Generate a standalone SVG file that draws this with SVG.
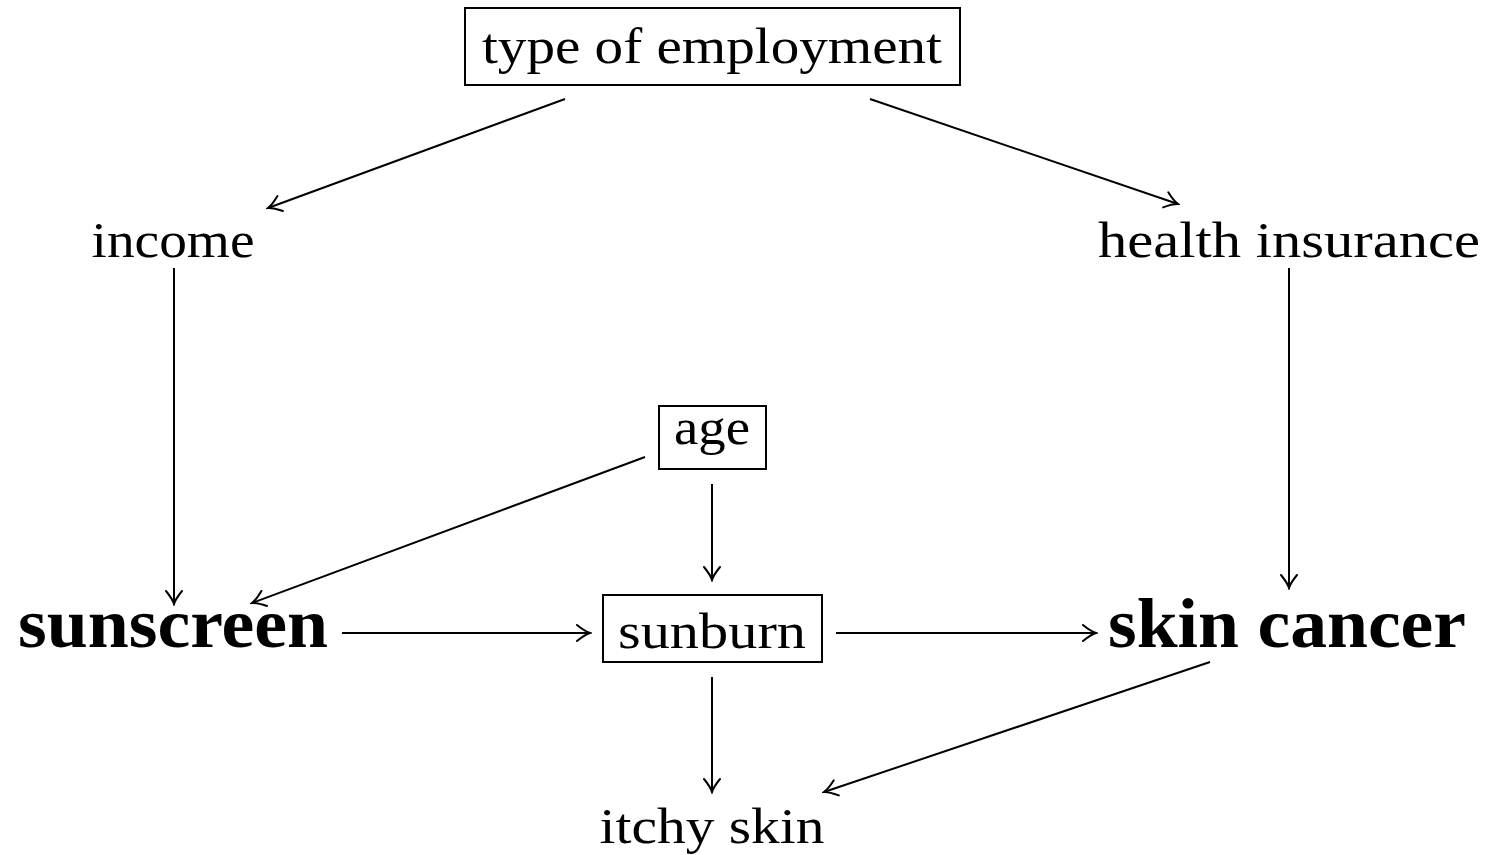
<svg xmlns="http://www.w3.org/2000/svg" width="1486" height="855" viewBox="0 0 1486 855">
<style>
text{font-family:"Liberation Serif","Times New Roman",serif;font-size:51px;fill:#000;text-anchor:middle}
.b{font-weight:bold;font-size:70px}
.box{fill:none;stroke:#000;stroke-width:2}
.e line{stroke:#000;stroke-width:2;marker-end:url(#ah)}
</style>
<defs>
<marker id="ah" viewBox="-16 -10 18 20" markerWidth="18" markerHeight="20" refX="0" refY="0" orient="auto" markerUnits="userSpaceOnUse">
<path d="M-13,-8 Q-5,-1.5 0,0 Q-5,1.5 -13,8" fill="none" stroke="#000" stroke-width="2" stroke-linecap="round"/>
</marker>
</defs>
<rect width="1486" height="855" fill="#fff"/>
<g class="e">
<line x1="565" y1="99" x2="268" y2="208"/>
<line x1="870" y1="99" x2="1178" y2="204"/>
<line x1="174" y1="268" x2="174" y2="604"/>
<line x1="1289" y1="268" x2="1289" y2="588"/>
<line x1="645" y1="457" x2="252" y2="603"/>
<line x1="712" y1="484" x2="712" y2="580"/>
<line x1="342" y1="633" x2="590" y2="633"/>
<line x1="836" y1="633" x2="1096" y2="633"/>
<line x1="712" y1="677" x2="712" y2="792"/>
<line x1="1210" y1="662" x2="824" y2="792"/>
</g>
<g id="employment"><rect class="box" x="465" y="8" width="495" height="77"/><text x="712" y="63" textLength="460" lengthAdjust="spacingAndGlyphs">type of employment</text></g>
<g id="income"><text x="173" y="257" textLength="163" lengthAdjust="spacingAndGlyphs">income</text></g>
<g id="insurance"><text x="1289" y="257" textLength="382" lengthAdjust="spacingAndGlyphs">health insurance</text></g>
<g id="age"><rect class="box" x="659" y="406" width="107" height="63"/><text x="712" y="444" textLength="76" lengthAdjust="spacingAndGlyphs">age</text></g>
<g id="sunscreen"><text class="b" x="173" y="647" textLength="310" lengthAdjust="spacingAndGlyphs">sunscreen</text></g>
<g id="sunburn"><rect class="box" x="603" y="595" width="219" height="67"/><text x="712" y="648" textLength="188" lengthAdjust="spacingAndGlyphs">sunburn</text></g>
<g id="skincancer"><text class="b" x="1287" y="647" textLength="358" lengthAdjust="spacingAndGlyphs">skin cancer</text></g>
<g id="itchy"><text x="712" y="843" textLength="225" lengthAdjust="spacingAndGlyphs">itchy skin</text></g>
</svg>
